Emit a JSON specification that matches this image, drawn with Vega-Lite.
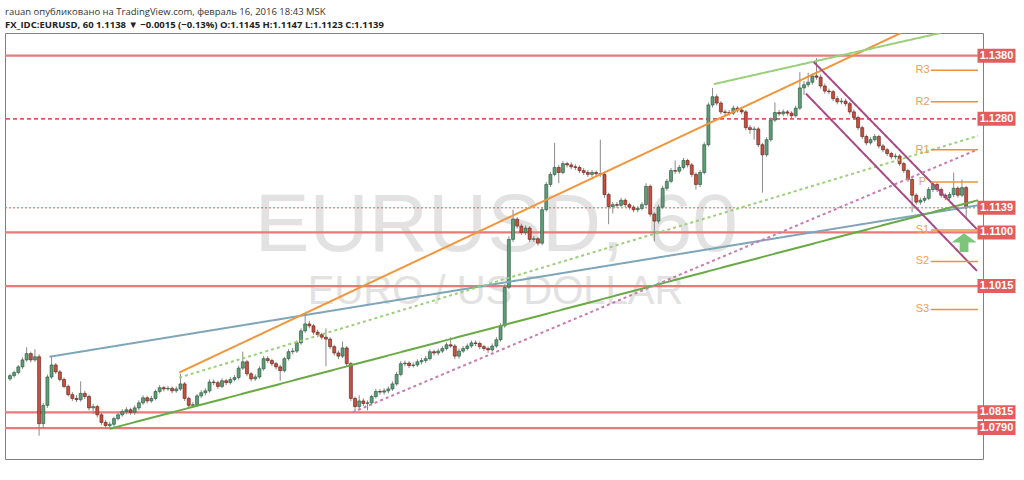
{
"$schema":"https://vega.github.io/schema/vega-lite/v6.json",
"width":978,"height":426,
"autosize":{"type":"none"},
"padding":{"left":5,"top":33,"right":41,"bottom":21},
"background":"white",
"config":{"view":{"stroke":"#808080"},"font":"Liberation Sans"},
"title":{"text":"rauan опубликовано на TradingView.com, февраль 16, 2016 18:43 MSK","subtitle":"FX_IDC:EURUSD, 60  1.1138 ▼ −0.0015 (−0.13%)  O:1.1145 H:1.1147 L:1.1123 C:1.1139","anchor":"start","frame":"group","font":"Open Sans","fontSize":9.5,"fontWeight":"normal","color":"#333333","subtitleFont":"Open Sans","subtitleFontSize":9.5,"subtitleFontWeight":"bold","subtitleColor":"#222222","subtitlePadding":3,"offset":4},
"resolve":{"scale":{"color":"independent","strokeWidth":"independent","strokeDash":"independent"}},
"datasets":{
"candles":[
{"t":0,"o":1.0868,"h":1.0876,"l":1.0865,"c":1.0873},
{"t":2,"o":1.0873,"h":1.0881,"l":1.0870,"c":1.0878},
{"t":4,"o":1.0878,"h":1.0890,"l":1.0875,"c":1.0887},
{"t":6,"o":1.0887,"h":1.0902,"l":1.0884,"c":1.0898},
{"t":8,"o":1.0898,"h":1.0918,"l":1.0895,"c":1.0908},
{"t":10,"o":1.0908,"h":1.0911,"l":1.0894,"c":1.0898},
{"t":12,"o":1.0898,"h":1.0915,"l":1.0895,"c":1.0903},
{"t":14,"o":1.0903,"h":1.0907,"l":1.0778,"c":1.0797},
{"t":16,"o":1.0797,"h":1.0830,"l":1.0790,"c":1.0826},
{"t":18,"o":1.0826,"h":1.0875,"l":1.0822,"c":1.0871},
{"t":20,"o":1.0871,"h":1.0903,"l":1.0868,"c":1.0890},
{"t":22,"o":1.0890,"h":1.0893,"l":1.0876,"c":1.0879},
{"t":24,"o":1.0879,"h":1.0882,"l":1.0864,"c":1.0867},
{"t":26,"o":1.0867,"h":1.0870,"l":1.0853,"c":1.0856},
{"t":28,"o":1.0856,"h":1.0859,"l":1.0840,"c":1.0843},
{"t":30,"o":1.0843,"h":1.0847,"l":1.0833,"c":1.0837},
{"t":32,"o":1.0837,"h":1.0842,"l":1.0831,"c":1.0835},
{"t":34,"o":1.0835,"h":1.0864,"l":1.0832,"c":1.0845},
{"t":36,"o":1.0845,"h":1.0849,"l":1.0836,"c":1.0840},
{"t":38,"o":1.0840,"h":1.0843,"l":1.0818,"c":1.0822},
{"t":40,"o":1.0822,"h":1.0828,"l":1.0812,"c":1.0824},
{"t":42,"o":1.0824,"h":1.0827,"l":1.0807,"c":1.0811},
{"t":44,"o":1.0811,"h":1.0814,"l":1.0795,"c":1.0799},
{"t":46,"o":1.0799,"h":1.0803,"l":1.0790,"c":1.0794},
{"t":48,"o":1.0794,"h":1.0800,"l":1.0788,"c":1.0796},
{"t":50,"o":1.0796,"h":1.0808,"l":1.0792,"c":1.0805},
{"t":52,"o":1.0805,"h":1.0814,"l":1.0802,"c":1.0811},
{"t":54,"o":1.0811,"h":1.0820,"l":1.0808,"c":1.0816},
{"t":56,"o":1.0816,"h":1.0823,"l":1.0812,"c":1.0819},
{"t":58,"o":1.0819,"h":1.0822,"l":1.0811,"c":1.0815},
{"t":60,"o":1.0815,"h":1.0826,"l":1.0811,"c":1.0822},
{"t":62,"o":1.0822,"h":1.0834,"l":1.0818,"c":1.0830},
{"t":64,"o":1.0830,"h":1.0842,"l":1.0827,"c":1.0838},
{"t":66,"o":1.0838,"h":1.0841,"l":1.0829,"c":1.0833},
{"t":68,"o":1.0833,"h":1.0841,"l":1.0830,"c":1.0837},
{"t":70,"o":1.0837,"h":1.0851,"l":1.0834,"c":1.0848},
{"t":72,"o":1.0848,"h":1.0858,"l":1.0845,"c":1.0854},
{"t":74,"o":1.0854,"h":1.0857,"l":1.0848,"c":1.0852},
{"t":76,"o":1.0852,"h":1.0857,"l":1.0849,"c":1.0853},
{"t":78,"o":1.0853,"h":1.0856,"l":1.0845,"c":1.0849},
{"t":80,"o":1.0849,"h":1.0856,"l":1.0846,"c":1.0852},
{"t":82,"o":1.0852,"h":1.0876,"l":1.0849,"c":1.0860},
{"t":84,"o":1.0860,"h":1.0863,"l":1.0833,"c":1.0837},
{"t":86,"o":1.0837,"h":1.0840,"l":1.0822,"c":1.0826},
{"t":88,"o":1.0826,"h":1.0831,"l":1.0822,"c":1.0827},
{"t":90,"o":1.0827,"h":1.0844,"l":1.0824,"c":1.0841},
{"t":92,"o":1.0841,"h":1.0850,"l":1.0838,"c":1.0846},
{"t":94,"o":1.0846,"h":1.0853,"l":1.0842,"c":1.0849},
{"t":96,"o":1.0849,"h":1.0867,"l":1.0846,"c":1.0863},
{"t":98,"o":1.0863,"h":1.0867,"l":1.0858,"c":1.0862},
{"t":100,"o":1.0862,"h":1.0865,"l":1.0852,"c":1.0856},
{"t":102,"o":1.0856,"h":1.0869,"l":1.0853,"c":1.0865},
{"t":104,"o":1.0865,"h":1.0868,"l":1.0858,"c":1.0862},
{"t":106,"o":1.0862,"h":1.0871,"l":1.0859,"c":1.0867},
{"t":108,"o":1.0867,"h":1.0874,"l":1.0864,"c":1.0870},
{"t":110,"o":1.0870,"h":1.0889,"l":1.0867,"c":1.0885},
{"t":112,"o":1.0885,"h":1.0911,"l":1.0882,"c":1.0895},
{"t":114,"o":1.0895,"h":1.0898,"l":1.0872,"c":1.0876},
{"t":116,"o":1.0876,"h":1.0879,"l":1.0864,"c":1.0868},
{"t":118,"o":1.0868,"h":1.0875,"l":1.0865,"c":1.0871},
{"t":120,"o":1.0871,"h":1.0888,"l":1.0868,"c":1.0884},
{"t":122,"o":1.0884,"h":1.0904,"l":1.0881,"c":1.0900},
{"t":124,"o":1.0900,"h":1.0904,"l":1.0893,"c":1.0897},
{"t":126,"o":1.0897,"h":1.0900,"l":1.0888,"c":1.0892},
{"t":128,"o":1.0892,"h":1.0895,"l":1.0883,"c":1.0887},
{"t":130,"o":1.0887,"h":1.0890,"l":1.0865,"c":1.0881},
{"t":132,"o":1.0881,"h":1.0903,"l":1.0878,"c":1.0900},
{"t":134,"o":1.0900,"h":1.0915,"l":1.0897,"c":1.0911},
{"t":136,"o":1.0911,"h":1.0917,"l":1.0907,"c":1.0912},
{"t":138,"o":1.0912,"h":1.0929,"l":1.0909,"c":1.0925},
{"t":140,"o":1.0925,"h":1.0948,"l":1.0922,"c":1.0944},
{"t":142,"o":1.0944,"h":1.0968,"l":1.0941,"c":1.0955},
{"t":144,"o":1.0955,"h":1.0960,"l":1.0948,"c":1.0952},
{"t":146,"o":1.0952,"h":1.0955,"l":1.0938,"c":1.0942},
{"t":148,"o":1.0942,"h":1.0946,"l":1.0934,"c":1.0938},
{"t":150,"o":1.0938,"h":1.0941,"l":1.0930,"c":1.0934},
{"t":152,"o":1.0934,"h":1.0948,"l":1.0888,"c":1.0931},
{"t":154,"o":1.0931,"h":1.0934,"l":1.0915,"c":1.0919},
{"t":156,"o":1.0919,"h":1.0922,"l":1.0905,"c":1.0909},
{"t":158,"o":1.0909,"h":1.0913,"l":1.0899,"c":1.0904},
{"t":160,"o":1.0904,"h":1.0927,"l":1.0901,"c":1.0917},
{"t":162,"o":1.0917,"h":1.0920,"l":1.0888,"c":1.0892},
{"t":164,"o":1.0892,"h":1.0895,"l":1.0833,"c":1.0837},
{"t":166,"o":1.0837,"h":1.0840,"l":1.0816,"c":1.0824},
{"t":168,"o":1.0824,"h":1.0842,"l":1.0820,"c":1.0833},
{"t":170,"o":1.0833,"h":1.0837,"l":1.0825,"c":1.0829},
{"t":172,"o":1.0829,"h":1.0834,"l":1.0818,"c":1.0830},
{"t":174,"o":1.0830,"h":1.0843,"l":1.0826,"c":1.0840},
{"t":176,"o":1.0840,"h":1.0852,"l":1.0837,"c":1.0848},
{"t":178,"o":1.0848,"h":1.0852,"l":1.0843,"c":1.0847},
{"t":180,"o":1.0847,"h":1.0853,"l":1.0843,"c":1.0849},
{"t":182,"o":1.0849,"h":1.0856,"l":1.0845,"c":1.0852},
{"t":184,"o":1.0852,"h":1.0864,"l":1.0849,"c":1.0860},
{"t":186,"o":1.0860,"h":1.0879,"l":1.0857,"c":1.0875},
{"t":188,"o":1.0875,"h":1.0896,"l":1.0872,"c":1.0892},
{"t":190,"o":1.0892,"h":1.0897,"l":1.0888,"c":1.0893},
{"t":192,"o":1.0893,"h":1.0896,"l":1.0885,"c":1.0889},
{"t":194,"o":1.0889,"h":1.0894,"l":1.0886,"c":1.0890},
{"t":196,"o":1.0890,"h":1.0899,"l":1.0887,"c":1.0895},
{"t":198,"o":1.0895,"h":1.0901,"l":1.0891,"c":1.0897},
{"t":200,"o":1.0897,"h":1.0904,"l":1.0893,"c":1.0900},
{"t":202,"o":1.0900,"h":1.0915,"l":1.0897,"c":1.0911},
{"t":204,"o":1.0911,"h":1.0914,"l":1.0905,"c":1.0909},
{"t":206,"o":1.0909,"h":1.0916,"l":1.0905,"c":1.0912},
{"t":208,"o":1.0912,"h":1.0920,"l":1.0909,"c":1.0916},
{"t":210,"o":1.0916,"h":1.0926,"l":1.0913,"c":1.0922},
{"t":212,"o":1.0922,"h":1.0934,"l":1.0917,"c":1.0920},
{"t":214,"o":1.0920,"h":1.0923,"l":1.0899,"c":1.0904},
{"t":216,"o":1.0904,"h":1.0916,"l":1.0900,"c":1.0912},
{"t":218,"o":1.0912,"h":1.0920,"l":1.0909,"c":1.0916},
{"t":220,"o":1.0916,"h":1.0924,"l":1.0913,"c":1.0920},
{"t":222,"o":1.0920,"h":1.0929,"l":1.0917,"c":1.0925},
{"t":224,"o":1.0925,"h":1.0929,"l":1.0920,"c":1.0924},
{"t":226,"o":1.0924,"h":1.0927,"l":1.0915,"c":1.0919},
{"t":228,"o":1.0919,"h":1.0922,"l":1.0912,"c":1.0916},
{"t":230,"o":1.0916,"h":1.0919,"l":1.0909,"c":1.0914},
{"t":232,"o":1.0914,"h":1.0924,"l":1.0911,"c":1.0920},
{"t":234,"o":1.0920,"h":1.0934,"l":1.0917,"c":1.0930},
{"t":236,"o":1.0930,"h":1.0956,"l":1.0927,"c":1.0952},
{"t":238,"o":1.0952,"h":1.1018,"l":1.0949,"c":1.1013},
{"t":240,"o":1.1013,"h":1.1094,"l":1.1010,"c":1.1089},
{"t":242,"o":1.1089,"h":1.1136,"l":1.1085,"c":1.1121},
{"t":244,"o":1.1121,"h":1.1124,"l":1.1106,"c":1.1110},
{"t":246,"o":1.1110,"h":1.1114,"l":1.1096,"c":1.1100},
{"t":248,"o":1.1100,"h":1.1111,"l":1.1096,"c":1.1107},
{"t":250,"o":1.1107,"h":1.1110,"l":1.1085,"c":1.1089},
{"t":252,"o":1.1089,"h":1.1094,"l":1.1085,"c":1.1090},
{"t":254,"o":1.1090,"h":1.1093,"l":1.1079,"c":1.1083},
{"t":256,"o":1.1083,"h":1.1140,"l":1.1080,"c":1.1136},
{"t":258,"o":1.1136,"h":1.1180,"l":1.1133,"c":1.1176},
{"t":260,"o":1.1176,"h":1.1196,"l":1.1172,"c":1.1192},
{"t":262,"o":1.1192,"h":1.1242,"l":1.1189,"c":1.1203},
{"t":264,"o":1.1203,"h":1.1207,"l":1.1178,"c":1.1195},
{"t":266,"o":1.1195,"h":1.1213,"l":1.1192,"c":1.1209},
{"t":268,"o":1.1209,"h":1.1212,"l":1.1203,"c":1.1207},
{"t":270,"o":1.1207,"h":1.1211,"l":1.1200,"c":1.1204},
{"t":272,"o":1.1204,"h":1.1208,"l":1.1199,"c":1.1203},
{"t":274,"o":1.1203,"h":1.1206,"l":1.1194,"c":1.1198},
{"t":276,"o":1.1198,"h":1.1202,"l":1.1191,"c":1.1195},
{"t":278,"o":1.1195,"h":1.1199,"l":1.1188,"c":1.1192},
{"t":280,"o":1.1192,"h":1.1199,"l":1.1188,"c":1.1195},
{"t":282,"o":1.1195,"h":1.1198,"l":1.1189,"c":1.1193},
{"t":284,"o":1.1193,"h":1.1247,"l":1.1188,"c":1.1192},
{"t":286,"o":1.1192,"h":1.1195,"l":1.1155,"c":1.1160},
{"t":288,"o":1.1160,"h":1.1163,"l":1.1113,"c":1.1141},
{"t":290,"o":1.1141,"h":1.1148,"l":1.1130,"c":1.1144},
{"t":292,"o":1.1144,"h":1.1148,"l":1.1139,"c":1.1143},
{"t":294,"o":1.1143,"h":1.1155,"l":1.1140,"c":1.1151},
{"t":296,"o":1.1151,"h":1.1154,"l":1.1140,"c":1.1144},
{"t":298,"o":1.1144,"h":1.1147,"l":1.1136,"c":1.1140},
{"t":300,"o":1.1140,"h":1.1143,"l":1.1132,"c":1.1136},
{"t":302,"o":1.1136,"h":1.1142,"l":1.1132,"c":1.1138},
{"t":304,"o":1.1138,"h":1.1148,"l":1.1135,"c":1.1144},
{"t":306,"o":1.1144,"h":1.1178,"l":1.1141,"c":1.1173},
{"t":308,"o":1.1173,"h":1.1176,"l":1.1125,"c":1.1129},
{"t":310,"o":1.1129,"h":1.1132,"l":1.1086,"c":1.1118},
{"t":312,"o":1.1118,"h":1.1144,"l":1.1114,"c":1.1140},
{"t":314,"o":1.1140,"h":1.1174,"l":1.1137,"c":1.1170},
{"t":316,"o":1.1170,"h":1.1185,"l":1.1166,"c":1.1181},
{"t":318,"o":1.1181,"h":1.1202,"l":1.1178,"c":1.1198},
{"t":320,"o":1.1198,"h":1.1214,"l":1.1193,"c":1.1197},
{"t":322,"o":1.1197,"h":1.1207,"l":1.1193,"c":1.1203},
{"t":324,"o":1.1203,"h":1.1218,"l":1.1200,"c":1.1214},
{"t":326,"o":1.1214,"h":1.1217,"l":1.1203,"c":1.1207},
{"t":328,"o":1.1207,"h":1.1210,"l":1.1188,"c":1.1192},
{"t":330,"o":1.1192,"h":1.1195,"l":1.1168,"c":1.1176},
{"t":332,"o":1.1176,"h":1.1199,"l":1.1172,"c":1.1195},
{"t":334,"o":1.1195,"h":1.1243,"l":1.1192,"c":1.1239},
{"t":336,"o":1.1239,"h":1.1306,"l":1.1236,"c":1.1302},
{"t":338,"o":1.1302,"h":1.1329,"l":1.1298,"c":1.1315},
{"t":340,"o":1.1315,"h":1.1319,"l":1.1301,"c":1.1305},
{"t":342,"o":1.1305,"h":1.1308,"l":1.1287,"c":1.1291},
{"t":344,"o":1.1291,"h":1.1295,"l":1.1286,"c":1.1290},
{"t":346,"o":1.1290,"h":1.1294,"l":1.1285,"c":1.1289},
{"t":348,"o":1.1289,"h":1.1301,"l":1.1286,"c":1.1297},
{"t":350,"o":1.1297,"h":1.1300,"l":1.1290,"c":1.1294},
{"t":352,"o":1.1294,"h":1.1297,"l":1.1287,"c":1.1291},
{"t":354,"o":1.1291,"h":1.1294,"l":1.1262,"c":1.1266},
{"t":356,"o":1.1266,"h":1.1270,"l":1.1256,"c":1.1263},
{"t":358,"o":1.1263,"h":1.1268,"l":1.1247,"c":1.1264},
{"t":360,"o":1.1264,"h":1.1267,"l":1.1235,"c":1.1239},
{"t":362,"o":1.1239,"h":1.1242,"l":1.1163,"c":1.1223},
{"t":364,"o":1.1223,"h":1.1251,"l":1.1220,"c":1.1247},
{"t":366,"o":1.1247,"h":1.1282,"l":1.1244,"c":1.1278},
{"t":368,"o":1.1278,"h":1.1306,"l":1.1275,"c":1.1290},
{"t":370,"o":1.1290,"h":1.1294,"l":1.1284,"c":1.1288},
{"t":372,"o":1.1288,"h":1.1295,"l":1.1284,"c":1.1291},
{"t":374,"o":1.1291,"h":1.1294,"l":1.1285,"c":1.1289},
{"t":376,"o":1.1289,"h":1.1292,"l":1.1281,"c":1.1285},
{"t":378,"o":1.1285,"h":1.1301,"l":1.1282,"c":1.1297},
{"t":380,"o":1.1297,"h":1.1354,"l":1.1294,"c":1.1329},
{"t":382,"o":1.1329,"h":1.1340,"l":1.1318,"c":1.1334},
{"t":384,"o":1.1334,"h":1.1353,"l":1.1330,"c":1.1338},
{"t":386,"o":1.1338,"h":1.1352,"l":1.1334,"c":1.1348},
{"t":388,"o":1.1348,"h":1.1376,"l":1.1342,"c":1.1346},
{"t":390,"o":1.1346,"h":1.1350,"l":1.1328,"c":1.1332},
{"t":392,"o":1.1332,"h":1.1336,"l":1.1320,"c":1.1324},
{"t":394,"o":1.1324,"h":1.1328,"l":1.1319,"c":1.1323},
{"t":396,"o":1.1323,"h":1.1326,"l":1.1308,"c":1.1312},
{"t":398,"o":1.1312,"h":1.1316,"l":1.1303,"c":1.1307},
{"t":400,"o":1.1307,"h":1.1313,"l":1.1303,"c":1.1308},
{"t":402,"o":1.1308,"h":1.1312,"l":1.1300,"c":1.1304},
{"t":404,"o":1.1304,"h":1.1307,"l":1.1287,"c":1.1291},
{"t":406,"o":1.1291,"h":1.1295,"l":1.1278,"c":1.1282},
{"t":408,"o":1.1282,"h":1.1285,"l":1.1262,"c":1.1266},
{"t":410,"o":1.1266,"h":1.1269,"l":1.1248,"c":1.1252},
{"t":412,"o":1.1252,"h":1.1255,"l":1.1238,"c":1.1242},
{"t":414,"o":1.1242,"h":1.1251,"l":1.1239,"c":1.1247},
{"t":416,"o":1.1247,"h":1.1256,"l":1.1244,"c":1.1252},
{"t":418,"o":1.1252,"h":1.1255,"l":1.1233,"c":1.1237},
{"t":420,"o":1.1237,"h":1.1240,"l":1.1227,"c":1.1231},
{"t":422,"o":1.1231,"h":1.1234,"l":1.1221,"c":1.1225},
{"t":424,"o":1.1225,"h":1.1228,"l":1.1216,"c":1.1220},
{"t":426,"o":1.1220,"h":1.1225,"l":1.1216,"c":1.1221},
{"t":428,"o":1.1221,"h":1.1224,"l":1.1205,"c":1.1209},
{"t":430,"o":1.1209,"h":1.1212,"l":1.1194,"c":1.1198},
{"t":432,"o":1.1198,"h":1.1201,"l":1.1180,"c":1.1184},
{"t":434,"o":1.1184,"h":1.1187,"l":1.1132,"c":1.1159},
{"t":436,"o":1.1159,"h":1.1162,"l":1.1144,"c":1.1148},
{"t":438,"o":1.1148,"h":1.1155,"l":1.1144,"c":1.1151},
{"t":440,"o":1.1151,"h":1.1158,"l":1.1147,"c":1.1154},
{"t":442,"o":1.1154,"h":1.1172,"l":1.1151,"c":1.1168},
{"t":444,"o":1.1168,"h":1.1180,"l":1.1164,"c":1.1176},
{"t":446,"o":1.1176,"h":1.1179,"l":1.1164,"c":1.1168},
{"t":448,"o":1.1168,"h":1.1171,"l":1.1155,"c":1.1159},
{"t":450,"o":1.1159,"h":1.1162,"l":1.1151,"c":1.1155},
{"t":452,"o":1.1155,"h":1.1164,"l":1.1151,"c":1.1160},
{"t":454,"o":1.1160,"h":1.1195,"l":1.1156,"c":1.1170},
{"t":456,"o":1.1170,"h":1.1173,"l":1.1155,"c":1.1159},
{"t":458,"o":1.1159,"h":1.1184,"l":1.1156,"c":1.1171},
{"t":460,"o":1.1171,"h":1.1174,"l":1.1123,"c":1.1139}
],
"hlines":[
{"p":1.1380,"k":"solid"},{"p":1.1280,"k":"dash"},{"p":1.1139,"k":"dot"},{"p":1.1100,"k":"solid"},{"p":1.1015,"k":"solid"},{"p":1.0815,"k":"solid"},{"p":1.0790,"k":"solid"}
],
"trends":[
{"id":"blue","t1":19.0,"p1":1.0903,"t2":465.7,"p2":1.1143},
{"id":"green","t1":48.1,"p1":1.0789,"t2":465.7,"p2":1.1151},
{"id":"orange","t1":81.4,"p1":1.0878,"t2":428.6,"p2":1.1416},
{"id":"greendash","t1":81.4,"p1":1.0870,"t2":465.7,"p2":1.1253},
{"id":"greenthin","t1":338.6,"p1":1.1335,"t2":447.6,"p2":1.1416},
{"id":"purpleup","t1":386.7,"p1":1.1370,"t2":465.2,"p2":1.1105},
{"id":"purplelow","t1":382.9,"p1":1.1320,"t2":465.2,"p2":1.1039},
{"id":"pinkdash","t1":164.8,"p1":1.0815,"t2":465.2,"p2":1.1231}
],
"pivots":[
{"n":"R3","p":1.1357},{"n":"R2","p":1.1307},{"n":"R1","p":1.1231},{"n":"P","p":1.1180},{"n":"S1","p":1.1104},{"n":"S2","p":1.1054},{"n":"S3","p":1.0978}
],
"tags":[
{"p":1.1380},{"p":1.1280},{"p":1.1139},{"p":1.1100},{"p":1.1015},{"p":1.0815},{"p":1.0790}
]
},
"layer":[
{"data":{"values":[{"txt":"EURUSD, 60"}]},
 "mark":{"type":"text","fontSize":82,"font":"Liberation Sans","color":"#e2e2e2","align":"center","baseline":"alphabetic"},
 "encoding":{"x":{"datum":234,"type":"quantitative","scale":{"domain":[0,465.7],"nice":false,"zero":false},"axis":null},
  "y":{"datum":1.1070,"type":"quantitative","scale":{"domain":[1.0741,1.1416],"nice":false,"zero":false},"axis":null},
  "text":{"field":"txt"}}},
{"data":{"values":[{"txt":"EURO / US DOLLAR"}]},
 "mark":{"type":"text","fontSize":40,"font":"Liberation Sans","color":"#e2e2e2","align":"center","baseline":"alphabetic"},
 "encoding":{"x":{"datum":233.6,"type":"quantitative","scale":{"domain":[0,465.7],"nice":false,"zero":false},"axis":null},
  "y":{"datum":1.0987,"type":"quantitative","scale":{"domain":[1.0741,1.1416],"nice":false,"zero":false},"axis":null},
  "text":{"field":"txt"}}},
{"data":{"name":"hlines"},
 "mark":{"type":"rule"},
 "encoding":{"y":{"field":"p","type":"quantitative","scale":{"domain":[1.0741,1.1416],"nice":false,"zero":false},"axis":null},
  "color":{"field":"k","type":"nominal","scale":{"domain":["solid","dash","dot"],"range":["#e87a7a","#e05a5a","#e05a5a"]},"legend":null},
  "strokeWidth":{"field":"k","type":"nominal","scale":{"domain":["solid","dash","dot"],"range":[2.2,1,1]},"legend":null},
  "strokeDash":{"field":"k","type":"nominal","scale":{"domain":["solid","dash","dot"],"range":[[1,0],[4,3],[2,2]]},"legend":null}}},
{"data":{"name":"candles"},
 "mark":{"type":"rule","color":"#8a8a8a","strokeWidth":1},
 "encoding":{"x":{"field":"t","type":"quantitative","scale":{"domain":[0,465.7],"nice":false,"zero":false},
   "axis":{"title":null,"values":[10,48,96,134,171,220,256,294,343,379,418,454],"labelExpr":"['12:00','25','27','12:00','Фев','3','12:00','8','10','12:00','15','12:00'][indexof([10,48,96,134,171,220,256,294,343,379,418,454], datum.value)]","grid":true,"gridColor":"#e9e9e9","domainColor":"#555555","tickColor":"#777777","tickSize":3,"labelColor":"#555555","labelFontSize":11,"labelPadding":1,"labelFont":"Liberation Sans","labelFlush":false}},
  "y":{"field":"l","type":"quantitative","scale":{"domain":[1.0741,1.1416],"nice":false,"zero":false},
   "axis":{"orient":"right","title":null,"values":[1.075,1.08,1.085,1.09,1.095,1.1,1.105,1.11,1.115,1.12,1.125,1.13,1.135,1.14],"format":".4f","grid":true,"gridColor":"#e9e9e9","domainColor":"#555555","tickColor":"#777777","tickSize":3,"labelColor":"#555555","labelFontSize":11,"labelPadding":3,"labelFont":"Liberation Sans"}},
  "y2":{"field":"h"}}},
{"data":{"name":"candles"},
 "mark":{"type":"bar","size":3,"strokeWidth":0.6},
 "encoding":{"x":{"field":"t","type":"quantitative","scale":{"domain":[0,465.7],"nice":false,"zero":false},"axis":null},
  "y":{"field":"o","type":"quantitative","scale":{"domain":[1.0741,1.1416],"nice":false,"zero":false},"axis":null},
  "y2":{"field":"c"},
  "fill":{"condition":{"test":"datum.c >= datum.o","value":"#5f9c78"},"value":"#c9503f"},
  "stroke":{"condition":{"test":"datum.c >= datum.o","value":"#225437"},"value":"#5b1a13"}}},
{"data":{"name":"trends"},
 "mark":{"type":"rule","clip":true},
 "encoding":{"x":{"field":"t1","type":"quantitative","scale":{"domain":[0,465.7],"nice":false,"zero":false},"axis":null},
  "x2":{"field":"t2"},
  "y":{"field":"p1","type":"quantitative","scale":{"domain":[1.0741,1.1416],"nice":false,"zero":false},"axis":null},
  "y2":{"field":"p2"},
  "color":{"field":"id","type":"nominal","scale":{"domain":["blue","green","orange","greendash","greenthin","purpleup","purplelow","pinkdash"],"range":["#7ea6b8","#6aaa45","#f0963c","#9ccf7a","#9ccf7a","#a84a85","#a84a85","#c77bb0"]},"legend":null},
  "strokeWidth":{"field":"id","type":"nominal","scale":{"domain":["blue","green","orange","greendash","greenthin","purpleup","purplelow","pinkdash"],"range":[2,2,2,1,1,2,2,1]},"legend":null},
  "strokeDash":{"field":"id","type":"nominal","scale":{"domain":["blue","green","orange","greendash","greenthin","purpleup","purplelow","pinkdash"],"range":[[1,0],[1,0],[1,0],[3,3],[1,0],[1,0],[1,0],[3,3]]},"legend":null}}},
{"data":{"name":"pivots"},
 "mark":{"type":"rule","color":"#f0903a","strokeWidth":1.5},
 "encoding":{"x":{"datum":443,"type":"quantitative","scale":{"domain":[0,465.7],"nice":false,"zero":false},"axis":null},
  "x2":{"datum":465.7},
  "y":{"field":"p","type":"quantitative","scale":{"domain":[1.0741,1.1416],"nice":false,"zero":false},"axis":null}}},
{"data":{"name":"pivots"},
 "mark":{"type":"text","color":"#f0a050","fontSize":11,"align":"center","baseline":"middle","font":"Liberation Sans"},
 "encoding":{"x":{"datum":439,"type":"quantitative","scale":{"domain":[0,465.7],"nice":false,"zero":false},"axis":null},
  "y":{"field":"p","type":"quantitative","scale":{"domain":[1.0741,1.1416],"nice":false,"zero":false},"axis":null},
  "text":{"field":"n"}}},
{"data":{"values":[{"a":1}]},
 "mark":{"type":"point","filled":true,"shape":"M0,-0.75 L1,0 L0.35,0 L0.35,0.75 L-0.35,0.75 L-0.35,0 L-1,0 Z","size":625,"color":"#7dc57a","opacity":1},
 "encoding":{"x":{"datum":459,"type":"quantitative","scale":{"domain":[0,465.7],"nice":false,"zero":false},"axis":null},
  "y":{"datum":1.1084,"type":"quantitative","scale":{"domain":[1.0741,1.1416],"nice":false,"zero":false},"axis":null}}},
{"data":{"name":"tags"},
 "mark":{"type":"point","filled":true,"shape":"M-1,-0.37 L1,-0.37 L1,0.37 L-1,0.37 Z","size":1444,"color":"#e35d5d","opacity":1},
 "encoding":{"x":{"datum":474.6,"type":"quantitative","scale":{"domain":[0,465.7],"nice":false,"zero":false},"axis":null},
  "y":{"field":"p","type":"quantitative","scale":{"domain":[1.0741,1.1416],"nice":false,"zero":false},"axis":null}}},
{"data":{"name":"tags"},
 "mark":{"type":"text","color":"white","fontWeight":"bold","fontSize":11,"align":"center","baseline":"middle","font":"Liberation Sans"},
 "encoding":{"x":{"datum":474.6,"type":"quantitative","scale":{"domain":[0,465.7],"nice":false,"zero":false},"axis":null},
  "y":{"field":"p","type":"quantitative","scale":{"domain":[1.0741,1.1416],"nice":false,"zero":false},"axis":null},
  "text":{"field":"p","type":"quantitative","format":".4f"}}}
]
}
